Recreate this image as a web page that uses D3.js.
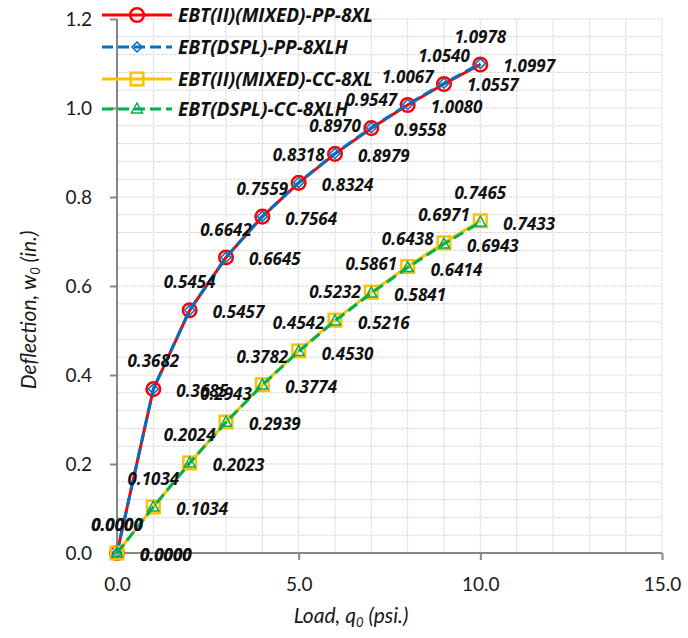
<!DOCTYPE html>
<html>
<head>
<meta charset="utf-8">
<script src="https://cdn.jsdelivr.net/npm/d3@7"></script>
<style>
  html, body { margin: 0; padding: 0; background: #fff; }
  svg { display: block; }
  text { font-family: Lato, "Open Sans", sans-serif; }
</style>
</head>
<body>
<svg id="chart" width="688" height="638"></svg>
<script>
// Load steps (psi.)
const loads = [0, 1, 2, 3, 4, 5, 6, 7, 8, 9, 10];

// Deflection at the centre, w0 (in.)
const ppMixed = [0.0000, 0.3682, 0.5454, 0.6642, 0.7559, 0.8318, 0.8970, 0.9547, 1.0067, 1.0540, 1.0978];
const ppDspl  = [0.0000, 0.3685, 0.5457, 0.6645, 0.7564, 0.8324, 0.8979, 0.9558, 1.0080, 1.0557, 1.0997];
const ccMixed = [0.0000, 0.1034, 0.2024, 0.2943, 0.3782, 0.4542, 0.5232, 0.5861, 0.6438, 0.6971, 0.7465];
const ccDspl  = [0.0000, 0.1034, 0.2023, 0.2939, 0.3774, 0.4530, 0.5216, 0.5841, 0.6414, 0.6943, 0.7433];

const seriesNames = ["EBT(II)(MIXED)-PP-8XL", "EBT(DSPL)-PP-8XLH", "EBT(II)(MIXED)-CC-8XL", "EBT(DSPL)-CC-8XLH"];

const xTicks = [0, 5, 10, 15];
const yTicks = [0, 0.2, 0.4, 0.6, 0.8, 1.0, 1.2];

const series = [
  { name: seriesNames[0], values: ppMixed, color: "#FF0000", dash: null,   marker: "circle",   labelPos: "above" },
  { name: seriesNames[1], values: ppDspl,  color: "#0070C0", dash: "11,5", marker: "diamond",  labelPos: "right" },
  { name: seriesNames[2], values: ccMixed, color: "#FFC000", dash: null,   marker: "square",   labelPos: "above" },
  { name: seriesNames[3], values: ccDspl,  color: "#00B050", dash: "11,5", marker: "triangle", labelPos: "right" }
];

const svg = d3.select("#chart");
const margin = { left: 117, right: 26, top: 19, bottom: 85 };
const W = 688, H = 638;

const x = d3.scaleLinear().domain([0, 15]).range([margin.left, W - margin.right]);
const y = d3.scaleLinear().domain([0, 1.2]).range([H - margin.bottom, margin.top]);

// gridlines: every 1 psi horizontally, every 0.04 in. vertically
const grid = svg.append("g").attr("stroke", "#d9d9d9").attr("stroke-width", 1).attr("stroke-dasharray", "3,1");
grid.selectAll("line.v").data(d3.range(1, 16)).join("line")
  .attr("x1", d => x(d)).attr("x2", d => x(d))
  .attr("y1", y(0)).attr("y2", y(1.2));
grid.selectAll("line.h").data(d3.range(1, 31).map(i => i * 0.04)).join("line")
  .attr("x1", x(0)).attr("x2", x(15))
  .attr("y1", d => y(d)).attr("y2", d => y(d));

// axes
const axisColor = "#868686";
const xAxis = svg.append("g").attr("transform", `translate(0,${y(0)})`)
  .call(d3.axisBottom(x).tickValues(xTicks).tickFormat(d3.format(".1f")).tickSize(7).tickPadding(18));
const yAxis = svg.append("g").attr("transform", `translate(${x(0)},0)`)
  .call(d3.axisLeft(y).tickValues(yTicks).tickFormat(d3.format(".1f")).tickSize(7).tickPadding(18));
[xAxis, yAxis].forEach(g => {
  g.select(".domain").attr("stroke", axisColor).attr("stroke-width", 2);
  g.selectAll(".tick line").attr("stroke", axisColor).attr("stroke-width", 2);
  g.selectAll(".tick text").attr("fill", "#1a1a1a").style("font-size", "19px").style("font-family", "Lato, sans-serif");
});
// keep the axis lines flush with the plot edges
xAxis.select(".domain").attr("d", `M${x(0)},0H${x(15)}`);
yAxis.select(".domain").attr("d", `M0,${y(0)}V${y(1.2)}`);

// marker shapes
function drawMarker(g, type, cx, cy, color) {
  if (type === "circle") {
    g.append("circle").attr("cx", cx).attr("cy", cy).attr("r", 6.8)
      .attr("fill", "none").attr("stroke", color).attr("stroke-width", 2.5);
  } else if (type === "square") {
    g.append("rect").attr("x", cx - 6.3).attr("y", cy - 6.3).attr("width", 12.6).attr("height", 12.6)
      .attr("fill", "none").attr("stroke", color).attr("stroke-width", 2.5);
  } else if (type === "diamond") {
    g.append("path").attr("d", `M${cx},${cy - 5}L${cx + 5},${cy}L${cx},${cy + 5}L${cx - 5},${cy}Z`)
      .attr("fill", "none").attr("stroke", color).attr("stroke-width", 1.5);
  } else if (type === "triangle") {
    g.append("path").attr("d", `M${cx},${cy - 6}L${cx + 5.5},${cy + 4}L${cx - 5.5},${cy + 4}Z`)
      .attr("fill", "none").attr("stroke", color).attr("stroke-width", 1.5);
  }
}

const line = d3.line().x((d, i) => x(loads[i])).y(d => y(d));

// series lines and markers
series.forEach(s => {
  const g = svg.append("g");
  g.append("path").datum(s.values).attr("d", line)
    .attr("fill", "none").attr("stroke", s.color).attr("stroke-width", 3)
    .attr("stroke-dasharray", s.dash);
  s.values.forEach((v, i) => drawMarker(g, s.marker, x(loads[i]), y(v), s.color));
});

// data labels
const fmt = d3.format(".4f");
series.forEach(s => {
  svg.append("g").selectAll("text").data(s.values).join("text")
    .attr("x", (d, i) => s.labelPos === "above" ? x(loads[i]) : x(loads[i]) + 23)
    .attr("y", d => s.labelPos === "above" ? y(d) - 28 : y(d) + 2)
    .attr("dy", "0.36em")
    .attr("text-anchor", s.labelPos === "above" ? "middle" : "start")
    .style("font-family", "'Open Sans', sans-serif")
    .style("font-size", "17px").style("font-weight", "bold").style("font-style", "italic")
    .attr("fill", "#111")
    .text(d => fmt(d));
});

// legend
const legend = svg.append("g");
const legendY = [15, 47, 79, 109];
series.forEach((s, i) => {
  const ly = legendY[i];
  legend.append("line").attr("x1", 102).attr("x2", 172).attr("y1", ly).attr("y2", ly)
    .attr("stroke", s.color).attr("stroke-width", 3).attr("stroke-dasharray", s.dash);
  drawMarker(legend, s.marker, 137, ly, s.color);
  legend.append("text").attr("x", 178).attr("y", ly).attr("dy", "0.36em")
    .style("font-family", "'Open Sans', sans-serif")
    .style("font-size", "19px").style("font-weight", "bold").style("font-style", "italic")
    .attr("fill", "#111").text(s.name);
});

// axis titles
const xt = svg.append("text").attr("x", 351).attr("y", 615).attr("dy", "0.36em")
  .attr("text-anchor", "middle").style("font-size", "21px").style("font-style", "italic").attr("fill", "#1a1a1a");
xt.append("tspan").text("Load, q");
xt.append("tspan").text("0").style("font-size", "13px").attr("dy", "4");
xt.append("tspan").text(" (psi.)").attr("dy", "-4");

const yt = svg.append("text").attr("transform", "translate(28,310) rotate(-90)").attr("dy", "0.36em")
  .attr("text-anchor", "middle").style("font-size", "21px").style("font-style", "italic").attr("fill", "#1a1a1a");
yt.append("tspan").text("Deflection,  w");
yt.append("tspan").text("0").style("font-size", "13px").attr("dy", "4");
yt.append("tspan").text(" (in.)").attr("dy", "-4");
</script>
</body>
</html>
